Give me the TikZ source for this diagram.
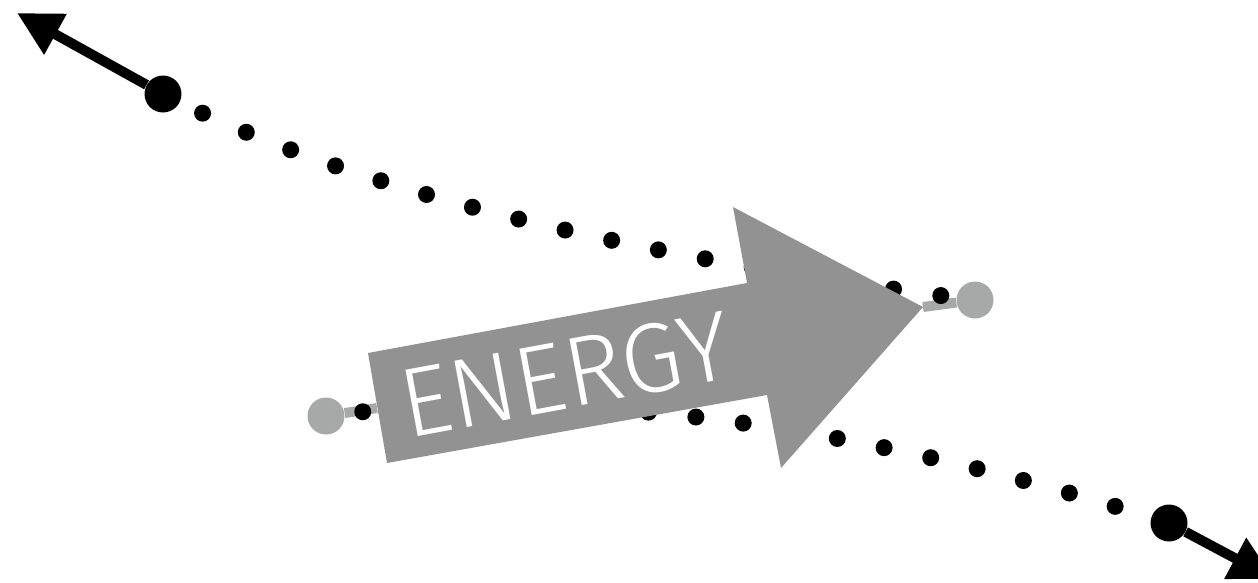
\documentclass[tikz,border=0pt]{standalone}
\usepackage{fontspec}
\setmainfont{Liberation Sans}
\newfontfamily\thinfont{Fira Sans}[UprightFont=* Light]
\definecolor{ArrowGray}{RGB}{146,146,146}
\definecolor{DotGray}{RGB}{166,169,167}
\usepackage{tikz}
\usetikzlibrary{arrows.meta, positioning}

\tikzset{
  bigdot/.style={circle, fill=black, minimum size=0.74cm, inner sep=0pt},
  graydot/.style={circle, fill=DotGray, minimum size=0.74cm, inner sep=0pt},
  grayline/.style={draw=DotGray, line width=0.2cm},
  trail/.style={line width=0.34cm, line cap=round, dash pattern=on 0pt off 0.954cm},
  push/.style={line width=0.2cm, -{Triangle[length=0.88cm, width=0.88cm]}}
}

\begin{document}
\begin{tikzpicture}[x=0.02cm, y=-0.02cm]
\useasboundingbox (0,0) rectangle (1258,582);

\node[bigdot] (topdot) at (163,94) {};
\node[bigdot] (botdot) at (1169,523) {};
\node[graydot] (grayL) at (326,416) {};
\node[graydot] (grayR) at (975,300) {};
\coordinate (tail) at (377,408);
\coordinate (tip) at (923,307);
\coordinate (outT) at (17,13);
\coordinate (outB) at (1274,579);

\draw[grayline] (grayL) -- (tail);
\draw[grayline] (tip) -- (grayR);

\draw[trail, dash phase=0.074cm] (topdot.center) .. controls (400,215) and (740,270) .. (grayR.center);
\draw[trail, dash phase=0.214cm] (grayL.center) .. controls (623,377) and (940,450) .. (botdot.center);

\draw[push] (topdot) -- (outT);
\draw[push] (botdot) -- (outB);

\fill[ArrowGray] (368,353) -- (747,283) -- (733,207) -- (tip) -- (781,468) -- (767,395) -- (387,463) -- cycle;
\node[
  rotate=10.5,
  text=white,
  inner sep=0pt,
  font=\thinfont\fontsize{56}{56}\selectfont
] (energy) at (565.5,374.7) {ENERGY};
\end{tikzpicture}
\end{document}
